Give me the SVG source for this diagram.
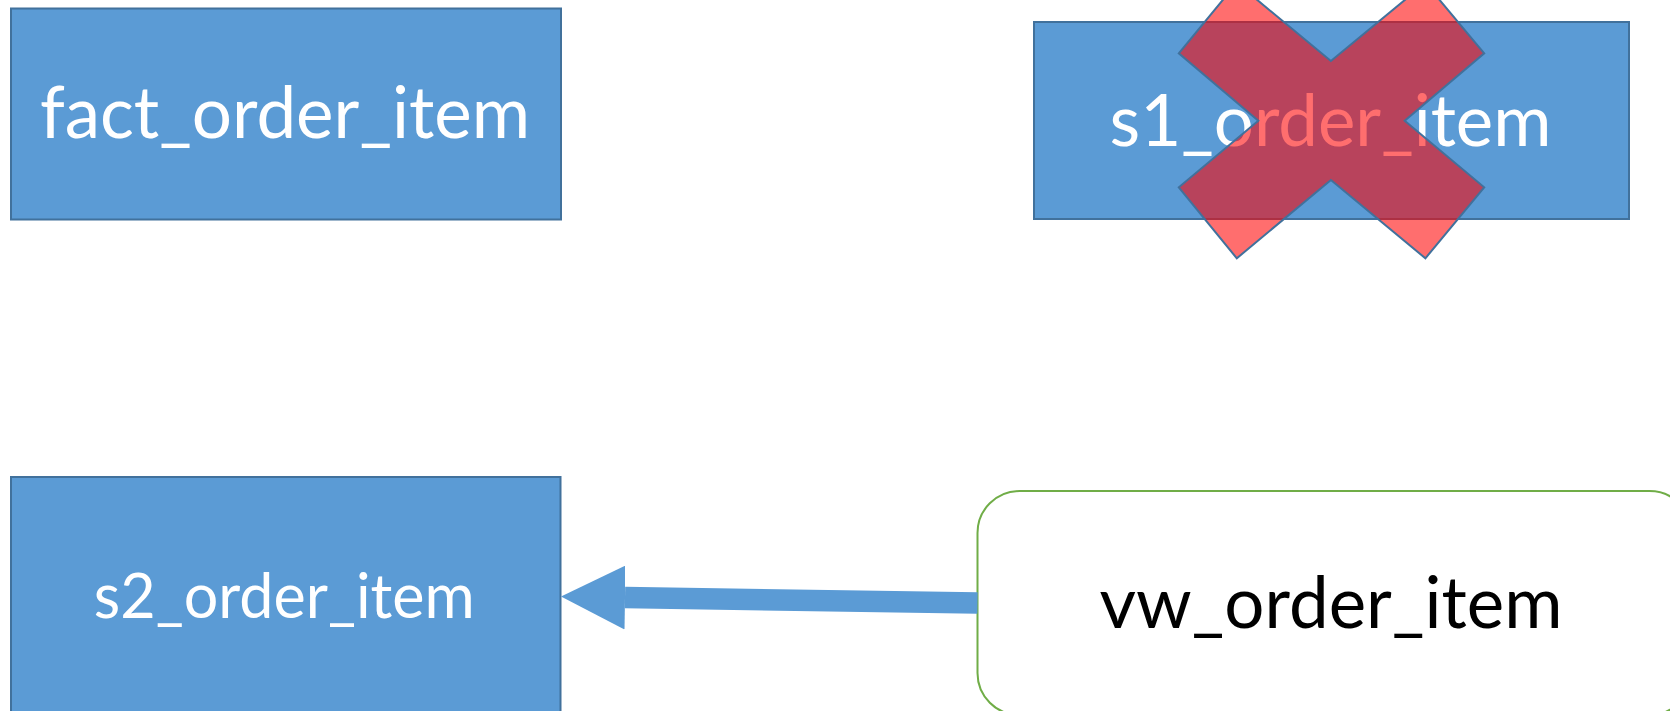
<svg xmlns="http://www.w3.org/2000/svg" width="1670" height="711" viewBox="0 0 1670 711">
  <style>
    .table { fill: #5B9BD5; stroke: #41719C; stroke-width: 2; }
    .view { fill: #FFFFFF; stroke: #70AD47; stroke-width: 2; }
    .label { font-family: Lato, "Open Sans", sans-serif; text-anchor: middle; }
    .light { fill: #FFFFFF; }
    .dark { fill: #000000; }
    .flow { stroke: #5B9BD5; stroke-width: 21.5; fill: none; }
    .cross { fill: #FF0000; fill-opacity: 0.57; stroke: #41719C; stroke-width: 2; stroke-linejoin: miter; }
  </style>
  <defs>
    <marker id="head" markerUnits="userSpaceOnUse" viewBox="0 0 64 64" markerWidth="64" markerHeight="64" refX="0" refY="32" orient="auto">
      <path d="M0,0 L64,32 L0,64 Z" fill="#5B9BD5"/>
    </marker>
  </defs>
  <rect width="1670" height="711" fill="#FFFFFF"/>

  <g id="fact_order_item">
    <rect class="table" x="11" y="8.5" width="550" height="211"/>
    <text class="label light" x="285" y="138.3" font-size="72" textLength="490" lengthAdjust="spacingAndGlyphs">fact_order_item</text>
  </g>

  <g id="s1_order_item">
    <rect class="table" x="1034" y="22" width="595" height="197"/>
    <text class="label light" x="1330.5" y="145.7" font-size="72" textLength="442" lengthAdjust="spacingAndGlyphs">s1_order_item</text>
  </g>

  <g id="s2_order_item">
    <rect class="table" x="11" y="477" width="549.5" height="260"/>
    <text class="label light" x="284.3" y="618.3" font-size="62" textLength="381" lengthAdjust="spacingAndGlyphs">s2_order_item</text>
  </g>

  <g id="vw_order_item">
    <rect class="view" x="977.5" y="491" width="714" height="224" rx="42" ry="42"/>
    <text class="label dark" x="1331" y="628.3" font-size="72" textLength="463" lengthAdjust="spacingAndGlyphs">vw_order_item</text>
  </g>

  <g id="connectors">
    <line class="flow" x1="977.5" y1="603" x2="625" y2="597.6" marker-end="url(#head)"/>
  </g>

  <!-- removal mark over s1_order_item -->
  <g id="removed">
    <polygon class="cross" points="1236.8,-17 1330.9,61 1425.4,-17 1484.2,53.3 1404.7,120.7 1484.2,187.3 1425.4,258.3 1330.9,180 1236.8,258.3 1178.8,187.3 1258.3,120.7 1178.8,53.3"/>
  </g>
</svg>
